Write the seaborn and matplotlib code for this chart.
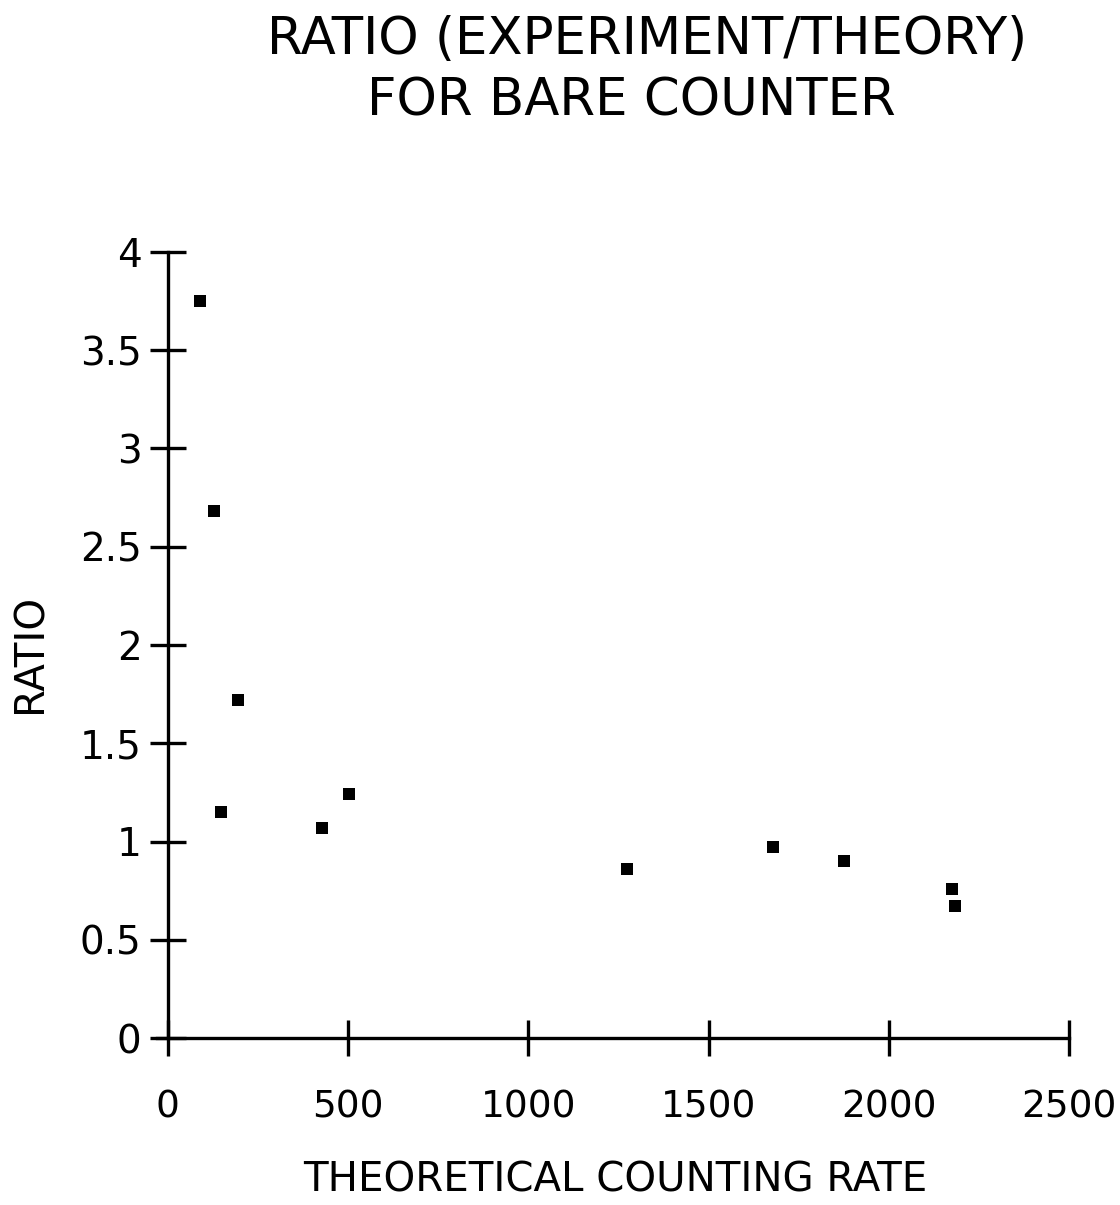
import matplotlib
matplotlib.use("Agg")
import matplotlib.pyplot as plt
import seaborn as sns
import pandas as pd

# Data
counting_rate = [90, 127, 147, 194, 428, 504, 1275, 1679, 1876, 2175, 2183]
ratio = [3.75, 2.68, 1.15, 1.72, 1.07, 1.24, 0.86, 0.97, 0.90, 0.76, 0.67]
x_ticks = [0, 500, 1000, 1500, 2000, 2500]
y_ticks = [0, 0.5, 1, 1.5, 2, 2.5, 3, 3.5, 4]
y_tick_labels = ["0", "0.5", "1", "1.5", "2", "2.5", "3", "3.5", "4"]

df = pd.DataFrame({"rate": counting_rate, "ratio": ratio})

sns.set_theme(style="white")
plt.rcParams["font.family"] = ["DejaVu Sans"]

fig = plt.figure(figsize=(11.2, 12.05), dpi=100)
ax = fig.add_axes([157 / 1120, (1205 - 1038) / 1205, (1069 - 157) / 1120, (1038 - 252) / 1205])

sns.scatterplot(data=df, x="rate", y="ratio", marker="s", s=70, color="black",
                edgecolor="black", linewidth=0, ax=ax, clip_on=False, zorder=3)

ax.set_xlim(-30, 2500)
ax.set_ylim(0, 4)
ax.spines["left"].set_position(("data", 0))
ax.spines["top"].set_visible(False)
ax.spines["right"].set_visible(False)
for s in ("left", "bottom"):
    ax.spines[s].set_linewidth(2.4)
    ax.spines[s].set_color("black")

ax.set_xticks(x_ticks)
ax.set_xticklabels([str(t) for t in x_ticks])
ax.set_yticks(y_ticks)
ax.set_yticklabels(y_tick_labels)
ax.tick_params(axis="both", which="major", direction="inout", length=26, width=2.4,
               color="black", labelsize=27, labelcolor="black",
               bottom=True, left=True, top=False, right=False)
ax.tick_params(axis="x", pad=24)
ax.tick_params(axis="y", pad=6, labelsize=28)
ax.set_xlabel("")
ax.set_ylabel("")
ax.grid(False)

fig.text(647 / 1120, (1205 - 40) / 1205, "RATIO (EXPERIMENT/THEORY)",
         ha="center", va="center", fontsize=37, color="black")
fig.text(631 / 1120, (1205 - 101) / 1205, "FOR BARE COUNTER",
         ha="center", va="center", fontsize=37, color="black")
fig.text(615 / 1120, (1205 - 1180) / 1205, "THEORETICAL COUNTING RATE",
         ha="center", va="center", fontsize=29, color="black")
fig.text(30 / 1120, (1205 - 653) / 1205, "RATIO", rotation=90,
         ha="center", va="center", fontsize=29, color="black")

fig.savefig("out.png", dpi=100, facecolor="white")
